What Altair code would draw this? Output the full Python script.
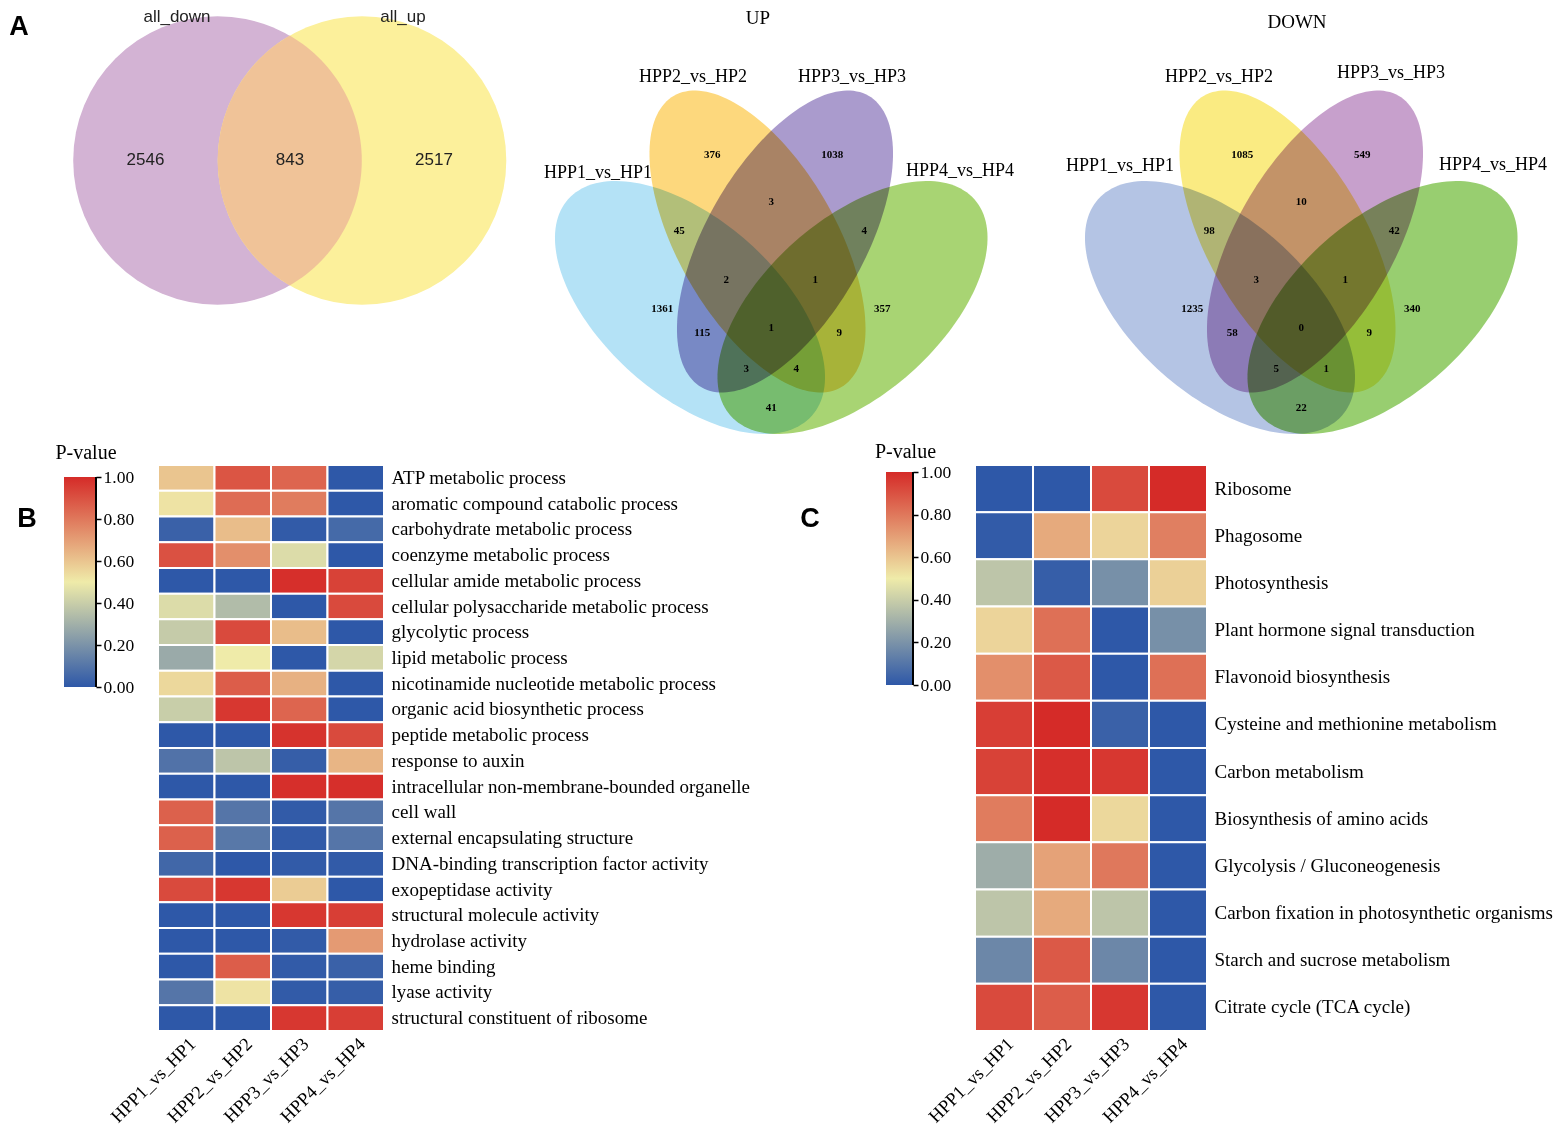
import math
import altair as alt
import pandas as pd

# ---------------- data ----------------
pair_names = ["all_down", "all_up"]
pair_counts = [2546, 843, 2517]          # down only, shared, up only

set_names = ["HPP1_vs_HP1", "HPP2_vs_HP2", "HPP3_vs_HP3", "HPP4_vs_HP4"]
region_keys = ["2", "3", "1", "4", "12", "23", "34", "123", "234",
               "13", "1234", "24", "134", "124", "14"]
up_counts = [376, 1038, 1361, 357, 45, 3, 4, 2, 1, 115, 1, 9, 3, 4, 41]
down_counts = [1085, 549, 1235, 340, 98, 10, 42, 3, 1, 58, 0, 9, 5, 1, 22]

comparisons = ["HPP1_vs_HP1", "HPP2_vs_HP2", "HPP3_vs_HP3", "HPP4_vs_HP4"]

go_terms = [
    "ATP metabolic process",
    "aromatic compound catabolic process",
    "carbohydrate metabolic process",
    "coenzyme metabolic process",
    "cellular amide metabolic process",
    "cellular polysaccharide metabolic process",
    "glycolytic process",
    "lipid metabolic process",
    "nicotinamide nucleotide metabolic process",
    "organic acid biosynthetic process",
    "peptide metabolic process",
    "response to auxin",
    "intracellular non-membrane-bounded organelle",
    "cell wall",
    "external encapsulating structure",
    "DNA-binding transcription factor activity",
    "exopeptidase activity",
    "structural molecule activity",
    "hydrolase activity",
    "heme binding",
    "lyase activity",
    "structural constituent of ribosome",
]
go_hpp1 = [0.60, 0.52, 0.03, 0.90, 0.00, 0.45, 0.39, 0.28, 0.55, 0.40, 0.00,
           0.09, 0.00, 0.86, 0.86, 0.05, 0.92, 0.00, 0.00, 0.00, 0.10, 0.00]
go_hpp2 = [0.89, 0.83, 0.62, 0.74, 0.00, 0.34, 0.92, 0.50, 0.87, 0.97, 0.00,
           0.37, 0.00, 0.10, 0.11, 0.00, 0.97, 0.00, 0.00, 0.87, 0.52, 0.00]
go_hpp3 = [0.85, 0.79, 0.01, 0.45, 0.99, 0.00, 0.62, 0.00, 0.65, 0.85, 0.98,
           0.02, 0.99, 0.01, 0.01, 0.01, 0.58, 0.97, 0.01, 0.01, 0.01, 0.97]
go_hpp4 = [0.00, 0.00, 0.06, 0.00, 0.94, 0.92, 0.00, 0.43, 0.00, 0.00, 0.92,
           0.64, 0.99, 0.10, 0.10, 0.01, 0.00, 0.95, 0.71, 0.03, 0.02, 0.95]

kegg_terms = [
    "Ribosome",
    "Phagosome",
    "Photosynthesis",
    "Plant hormone signal transduction",
    "Flavonoid biosynthesis",
    "Cysteine and methionine metabolism",
    "Carbon metabolism",
    "Biosynthesis of amino acids",
    "Glycolysis / Gluconeogenesis",
    "Carbon fixation in photosynthetic organisms",
    "Starch and sucrose metabolism",
    "Citrate cycle (TCA cycle)",
]
kegg_hpp1 = [0.00, 0.01, 0.37, 0.56, 0.74, 0.95, 0.94, 0.79, 0.29, 0.37, 0.16, 0.92]
kegg_hpp2 = [0.00, 0.67, 0.02, 0.82, 0.88, 1.00, 0.99, 1.00, 0.69, 0.67, 0.88, 0.87]
kegg_hpp3 = [0.92, 0.56, 0.19, 0.00, 0.00, 0.03, 0.97, 0.55, 0.80, 0.37, 0.16, 0.97]
kegg_hpp4 = [1.00, 0.78, 0.57, 0.19, 0.82, 0.00, 0.00, 0.00, 0.00, 0.00, 0.00, 0.00]

colorbar_ticks = [0.0, 0.2, 0.4, 0.6, 0.8, 1.0]

# ---------------- styling / layout ----------------
SERIF = "Liberation Serif"
SANS = "Liberation Sans"
BLUE, MID, RED = "#2E58A8", "#EFEBA9", "#D52B28"

TOP_W, TOP_H = 1546, 432
X0, Y0 = 8, 8
xs = alt.Scale(domain=[X0, X0 + TOP_W], nice=False, zero=False)
ys = alt.Scale(domain=[Y0, Y0 + TOP_H], nice=False, zero=False, reverse=True)
XE = alt.X("x:Q", scale=xs, axis=None)
YE = alt.Y("y:Q", scale=ys, axis=None)


def ellipse_path(a, b, theta_deg, n=160):
    t = math.radians(theta_deg)
    ct, st = math.cos(t), math.sin(t)
    pts = []
    for k in range(n):
        p = 2 * math.pi * k / n
        ex, ey = a * math.cos(p), b * math.sin(p)
        pts.append(f"{(ex * ct - ey * st) / a:.4f},{(ex * st + ey * ct) / a:.4f}")
    return "M" + "L".join(pts) + "Z"


def lens_path(r, d, n=60):
    h = math.sqrt(r * r - (d / 2) ** 2)
    phi = math.atan2(h, d / 2)
    pts = []
    for k in range(n + 1):
        a = -phi + 2 * phi * k / n
        pts.append(((-d / 2 + r * math.cos(a)) / h, r * math.sin(a) / h))
    for k in range(n + 1):
        a = phi - 2 * phi * k / n
        pts.append(((d / 2 - r * math.cos(a)) / h, r * math.sin(a) / h))
    return "M" + "L".join(f"{x:.4f},{y:.4f}" for x, y in pts) + "Z", h


def shape_layer(cx, cy, shape, half, color, blend=None):
    df = pd.DataFrame({"x": [cx], "y": [cy]})
    kw = dict(shape=shape, size=(2 * half) ** 2, filled=True, color=color,
              opacity=1, strokeWidth=0)
    if blend:
        kw["blend"] = blend
    return alt.Chart(df).mark_point(**kw).encode(x=XE, y=YE)


def text_layer(xs_, ys_, labels, font, size, weight="normal", color="black"):
    df = pd.DataFrame({"x": xs_, "y": ys_, "label": labels})
    return alt.Chart(df).mark_text(
        font=font, fontSize=size, fontWeight=weight, color=color
    ).encode(x=XE, y=YE, text="label:N")


layers = []

# --- two-set Venn ---
R2 = 144.3
C_DOWN, C_UP, CY2 = 217.5, 362.0, 159.5
layers.append(shape_layer(C_DOWN, CY2, "circle", R2, "#D3B3D4"))
layers.append(shape_layer(C_UP, CY2, "circle", R2, "#FCF09B"))
lp, lh = lens_path(R2, C_UP - C_DOWN)
layers.append(shape_layer((C_DOWN + C_UP) / 2, CY2, lp, lh, "#F0C398"))
layers.append(text_layer([177, 403], [16, 16], pair_names, SANS, 17, color="#222"))
layers.append(text_layer([145.5, 290, 434], [159, 159, 159],
                         [str(v) for v in pair_counts], SANS, 17, color="#222"))
layers.append(text_layer([19], [26], ["A"], SANS, 27, weight="bold"))

# --- four-set Venns ---
ELLIPSES = [(-81.25, 306.5, 163, 87.5, 41.6),
            (-13.75, 240.5, 168, 79, 60.2),
            (13.75, 240.5, 168, 79, 119.8),
            (81.25, 306.5, 163, 87.5, 138.4)]
REGION_POS = [(-59, 154), (61, 154), (-109, 308), (111, 308), (-92, 230),
              (0, 201), (93, 230), (-45, 279), (44, 279), (-69, 332),
              (0, 327), (68, 332), (-25, 368), (25, 368), (0, 407)]

venns = [
    dict(axis=771.25, title="UP", title_pos=(758, 17), counts=up_counts,
         colors=["#B4E2F6", "#FDD87D", "#AA9BCD", "#A8D473"],
         label_pos=[(598, 172), (693, 76), (852, 76), (960, 170)]),
    dict(axis=1301.25, title="DOWN", title_pos=(1297, 21), counts=down_counts,
         colors=["#B4C4E4", "#FAEB82", "#C7A0CC", "#98CE70"],
         label_pos=[(1120, 165), (1219, 76), (1391, 72), (1493, 164)]),
]
for v in venns:
    for (dx, cy, a, b, th), col in zip(ELLIPSES, v["colors"]):
        layers.append(shape_layer(v["axis"] + dx, cy, ellipse_path(a, b, th), a, col,
                                  blend="multiply"))
    layers.append(text_layer([v["axis"] + p[0] for p in REGION_POS],
                             [p[1] for p in REGION_POS],
                             [str(c) for c in v["counts"]], SERIF, 11, weight="bold"))
    layers.append(text_layer([p[0] for p in v["label_pos"]], [p[1] for p in v["label_pos"]],
                             set_names, SERIF, 18))
    layers.append(text_layer([v["title_pos"][0]], [v["title_pos"][1]], [v["title"]], SERIF, 19))

top = alt.layer(*layers).properties(width=TOP_W, height=TOP_H)

# ---------------- heatmaps ----------------
color_scale = alt.Scale(domain=[0, 0.5, 1], range=[BLUE, MID, RED], interpolate="rgb")


def heatmap(terms, columns, width, height, label_size):
    rows = []
    for comp, vals in zip(comparisons, columns):
        for term, val in zip(terms, vals):
            rows.append({"comparison": comp, "term": term, "p": val})
    df = pd.DataFrame(rows)
    return alt.Chart(df).mark_rect(stroke="white", strokeWidth=2).encode(
        x=alt.X("comparison:N", sort=comparisons,
                scale=alt.Scale(paddingInner=0, paddingOuter=0),
                axis=alt.Axis(title=None, labelAngle=-45, labelAlign="right",
                              labelBaseline="top", labelFont=SERIF, labelFontSize=18.5,
                              labelColor="black", ticks=False, domain=False,
                              labelPadding=3)),
        y=alt.Y("term:N", sort=terms,
                scale=alt.Scale(paddingInner=0, paddingOuter=0),
                axis=alt.Axis(orient="right", title=None, ticks=False, domain=False,
                              labelFont=SERIF, labelFontSize=label_size,
                              labelColor="black", labelPadding=7, labelLimit=600)),
        color=alt.Color("p:Q", scale=color_scale, legend=None),
    ).properties(width=width, height=height)


gradient = alt.LinearGradient(
    gradient="linear",
    stops=[alt.GradientStop(color=BLUE, offset=0),
           alt.GradientStop(color=MID, offset=0.5),
           alt.GradientStop(color=RED, offset=1)],
    x1=0, x2=0, y1=1, y2=0)


def colorbar(width, grad_left, top_px, bottom_px, plot_h, title_xy, letter, letter_xy):
    ppu = bottom_px - top_px
    hi = 1 + top_px / ppu
    lo = hi - plot_h / ppu
    yscale = alt.Scale(domain=[lo, hi], nice=False, zero=False)
    ax = alt.Axis(orient="right", values=colorbar_ticks, format=".2f", domain=False,
                  ticks=True, tickColor="black", tickSize=5, tickWidth=1.5,
                  labelFont=SERIF, labelFontSize=17.5, labelColor="black",
                  labelPadding=2, grid=False, title=None)
    base = alt.Chart(pd.DataFrame({"lo": [0.0], "hi": [1.0]}))
    rect = base.mark_rect(fill=gradient).encode(
        x=alt.value(grad_left), x2=alt.value(width),
        y=alt.Y("lo:Q", scale=yscale, axis=ax), y2="hi:Q")
    rule = base.mark_rule(color="black", strokeWidth=2).encode(
        x=alt.value(width), y=alt.Y("lo:Q", scale=yscale, axis=ax), y2="hi:Q")
    ttl = base.mark_text(text="P-value", font=SERIF, fontSize=20, color="black").encode(
        x=alt.value(title_xy[0]), y=alt.value(title_xy[1]))
    let = base.mark_text(text=letter, font=SANS, fontSize=27, fontWeight="bold",
                         color="black").encode(
        x=alt.value(letter_xy[0]), y=alt.value(letter_xy[1]))
    return alt.layer(rect, rule, ttl, let).properties(width=width, height=plot_h)


PLOT_H = 566
cbB = colorbar(88, 56, 12, 222, PLOT_H, (78, -12), "B", (19, 54))
heatB = heatmap(go_terms, [go_hpp1, go_hpp2, go_hpp3, go_hpp4], 226, PLOT_H, 19)
cbC = colorbar(467, 440, 7, 220, PLOT_H, (459.5, -13), "C", (364, 54))
heatC = heatmap(kegg_terms, [kegg_hpp1, kegg_hpp2, kegg_hpp3, kegg_hpp4], 232, PLOT_H, 19)

bottom = alt.hconcat(cbB, heatB, cbC, heatC, spacing=62, bounds="flush")

chart = alt.vconcat(top, bottom, spacing=24, bounds="flush").properties(
    padding=0, background="white"
).configure_view(stroke=None)

chart.save("out.html", embed_options={"renderer": "svg", "actions": False})
